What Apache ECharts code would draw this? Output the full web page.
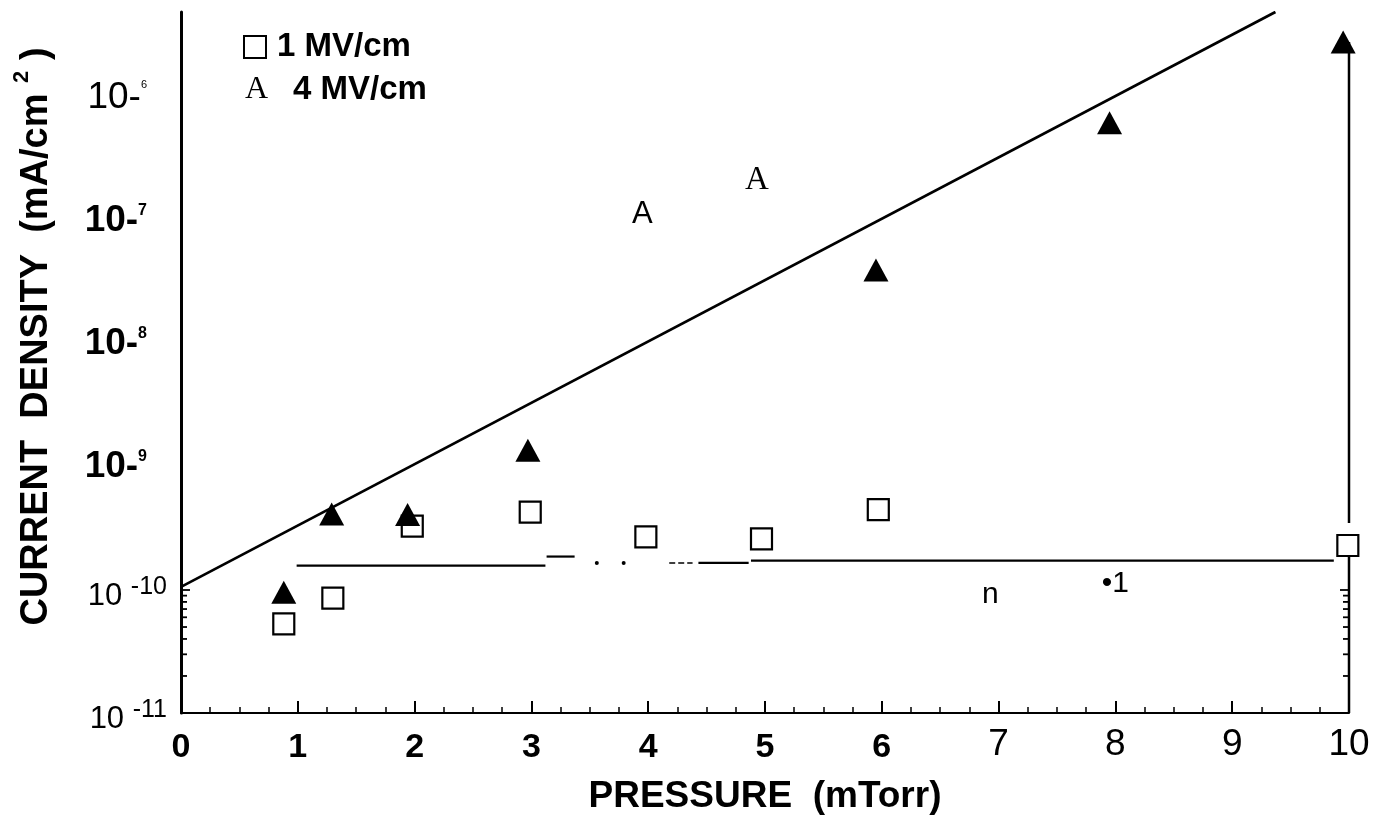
<!DOCTYPE html>
<html><head><meta charset="utf-8">
<script src="https://cdn.jsdelivr.net/npm/echarts@6/dist/echarts.min.js"></script>
<style>html,body{margin:0;padding:0;background:#fff}#c{width:1391px;height:823px}</style>
</head><body><div id="c"></div>
<script>
// ---- data ----
const xTickLabels = ['0','1','2','3','4','5','6','7','8','9','10'];
const yExponents = [-11, -10, -9, -8, -7, -6];
const yTickMain = ['10 ', '10 ', '10-', '10-', '10-', '10-'];
const yTickSup = ['-11', '-10', '9', '8', '7', '6'];

const tri4Pressure = [0.88, 1.29, 1.94, 2.97, 5.95, 7.95, 9.95];
const tri4Density  = [9.6e-11, 4.15e-10, 4.1e-10, 1.37e-9, 4.0e-8, 6.3e-7, 2.85e-6];
const sq1Pressure  = [0.88, 1.30, 1.98, 2.99, 3.98, 4.97, 5.97, 9.99];
const sq1Density   = [5.3e-11, 8.6e-11, 3.3e-10, 4.3e-10, 2.7e-10, 2.6e-10, 4.5e-10, 2.3e-10];
const fitPressure  = [0, 9.37];
const fitDensity   = [1.06e-10, 5.0e-6];
const aMarkPressure = [3.95, 4.93];
const aMarkDensity  = [1.14e-7, 2.15e-7];
const aMarkText     = ['A', 'A'];
const strayPressure = [6.93, 8.0];
const strayDensity  = [9.1e-11, 1.12e-10];
const strayText     = ['n', '\u20221'];
const baseSegPressure = [[0.99, 3.12], [3.13, 3.37], [4.18, 4.38], [4.43, 4.86], [4.88, 9.87]];
const baseSegDensity  = [1.58e-10, 1.87e-10, 1.66e-10, 1.66e-10, 1.73e-10];
const baseDotPressure = [3.56, 3.79];
const baseDotDensity  = [1.66e-10, 1.66e-10];
const rightLinePressure = 10;
const rightLineDensity  = [[1e-11, 2.3e-10], [3.5e-10, 2.85e-6]];
const minorTickDensity  = [1e-10, 9e-11, 8e-11, 7e-11, 6e-11, 5e-11, 4e-11, 3e-11, 2e-11];

// ---- chart ----
const FONT = 'Liberation Sans, Arial, sans-serif';
const chart = echarts.init(document.getElementById('c'), null, {renderer: 'canvas'});

function yLabel(v) {
  const e = Math.log10(v);
  const r = Math.round(e);
  if (Math.abs(e - r) > 1e-6) return '';
  const i = yExponents.indexOf(r);
  if (i < 0) return '';
  if (r <= -10) return '{m|' + yTickMain[i] + '}{ms|' + yTickSup[i] + '}';
  if (r === -6) return '{l|' + yTickMain[i] + '}{ls|' + yTickSup[i] + '}{sp| }';
  return '{b|' + yTickMain[i] + '}{bs|' + yTickSup[i] + '}{sp| }';
}

function tickRenderer(dir) {
  return function (params, api) {
    const v = api.value(1);
    const p = api.coord([api.value(0), v]);
    const e = Math.log10(v);
    const len = Math.abs(e - Math.round(e)) < 1e-6 ? 9 : 6;
    return {type: 'line', shape: {x1: p[0], y1: p[1], x2: p[0] + dir * len, y2: p[1]},
            style: {stroke: '#000', lineWidth: 1.8}};
  };
}

const series = [];
series.push({type: 'line', data: fitPressure.map((p, i) => [p, fitDensity[i]]), symbol: 'none',
  lineStyle: {color: '#000', width: 2.7}, silent: true, z: 2});
baseSegPressure.forEach((seg, i) => {
  series.push({type: 'line', data: [[seg[0], baseSegDensity[i]], [seg[1], baseSegDensity[i]]], symbol: 'none',
    lineStyle: {color: '#000', width: i === 2 ? 1.5 : 2.2, type: i === 2 ? 'dashed' : 'solid'}, silent: true, z: 2});
});
series.push({type: 'scatter', data: baseDotPressure.map((p, i) => [p, baseDotDensity[i]]), symbol: 'circle',
  symbolSize: 4, itemStyle: {color: '#000', opacity: 1}, silent: true, z: 2});
rightLineDensity.forEach(seg => {
  series.push({type: 'line', data: [[rightLinePressure, seg[0]], [rightLinePressure, seg[1]]], symbol: 'none',
    lineStyle: {color: '#000', width: 2.5}, silent: true, z: 2});
});
series.push({type: 'custom', data: minorTickDensity.map(v => [0, v]), renderItem: tickRenderer(1), silent: true, clip: false, z: 3});
series.push({type: 'custom', data: minorTickDensity.map(v => [10, v]), renderItem: tickRenderer(-1), silent: true, clip: false, z: 3});
series.push({name: '1 MV/cm', type: 'scatter', data: sq1Pressure.map((p, i) => [p, sq1Density[i]]), symbol: 'rect',
  symbolSize: 21, itemStyle: {color: '#fff', borderColor: '#000', borderWidth: 2.2, opacity: 1}, z: 4});
series.push({name: '4 MV/cm', type: 'scatter', data: tri4Pressure.map((p, i) => [p, tri4Density[i]]), symbol: 'triangle',
  symbolSize: [25, 23], itemStyle: {color: '#000', opacity: 1}, z: 5});
series.push({type: 'scatter', symbolSize: 1, itemStyle: {color: 'rgba(0,0,0,0)', opacity: 1}, silent: true, z: 6,
  data: aMarkPressure.map((p, i) => ({value: [p, aMarkDensity[i]], name: aMarkText[i],
    label: {fontFamily: i === 0 ? FONT : 'Liberation Serif, Times New Roman, serif', fontSize: i === 0 ? 31 : 33}})),
  label: {show: true, position: 'inside', formatter: p => p.name, color: '#000', opacity: 1}});
series.push({type: 'scatter', symbolSize: 1, itemStyle: {color: 'rgba(0,0,0,0)', opacity: 1}, silent: true, z: 6,
  data: strayPressure.map((p, i) => ({value: [p, strayDensity[i]], name: strayText[i]})),
  label: {show: true, position: 'inside', formatter: p => p.name, color: '#000', opacity: 1, fontFamily: FONT, fontSize: 30}});

const option = {
  backgroundColor: '#fff',
  animation: false,
  grid: {left: 181, right: 42, top: 12, bottom: 110, containLabel: false, outerBoundsMode: 'none'},
  legend: [
    {data: [{name: '1 MV/cm', icon: 'rect', itemStyle: {color: '#fff', borderColor: '#000', borderWidth: 2}}],
     left: 243, top: 28, padding: 0, itemWidth: 22, itemHeight: 22, selectedMode: false,
     textStyle: {fontSize: 33, fontWeight: 'bold', fontFamily: FONT, color: '#000', padding: [0, 0, 0, 6], lineHeight: 38}},
    {data: [{name: '4 MV/cm', icon: 'rect', itemStyle: {color: 'rgba(0,0,0,0)', borderWidth: 0, opacity: 0}}],
     left: 239, top: 73, padding: 0, itemWidth: 1, itemHeight: 1, selectedMode: false,
     formatter: n => '{a|A}{t|' + n + '}',
     textStyle: {color: '#000', rich: {
       a: {fontFamily: 'Liberation Serif, Times New Roman, serif', fontSize: 32, width: 48, lineHeight: 38, color: '#000'},
       t: {fontFamily: FONT, fontSize: 33, fontWeight: 'bold', lineHeight: 38, color: '#000'}}}}
  ],
  xAxis: {
    type: 'value', min: 0, max: 10, interval: 1,
    name: 'PRESSURE  (mTorr)', nameLocation: 'middle', nameGap: 65,
    nameTextStyle: {fontFamily: FONT, fontSize: 37, fontWeight: 'bold', color: '#000'},
    axisLine: {show: true, onZero: false, lineStyle: {color: '#000', width: 2}},
    axisTick: {show: true, inside: true, length: 12, lineStyle: {color: '#000', width: 2}},
    minorTick: {show: true, splitNumber: 4, length: 6, lineStyle: {color: '#000', width: 1.5}},
    splitLine: {show: false},
    axisLabel: {
      margin: 13, color: '#000',
      formatter: v => {
        const i = Math.round(v);
        return i <= 6 ? '{xb|' + xTickLabels[i] + '}' : '{xn|' + xTickLabels[i] + '}';
      },
      rich: {
        xb: {fontFamily: FONT, fontSize: 34, fontWeight: 'bold', lineHeight: 34, padding: [10, 0, 0, 0], color: '#000'},
        xn: {fontFamily: FONT, fontSize: 37, fontWeight: 'normal', lineHeight: 37, color: '#000'}
      }
    }
  },
  yAxis: {
    type: 'log', logBase: 10, min: 1e-11, max: 5e-6,
    name: '{t|CURRENT  DENSITY  (mA/cm }{s|2}{t| )}', nameLocation: 'middle', nameGap: 132, nameRotate: 90,
    nameTextStyle: {padding: [0, 0, 0, 52], rich: {
      t: {fontFamily: FONT, fontSize: 38, fontWeight: 'bold', lineHeight: 38, padding: [13, 0, 0, 0], color: '#000'},
      s: {fontFamily: FONT, fontSize: 22, fontWeight: 'bold', lineHeight: 22, verticalAlign: 'top', color: '#000'}}},
    axisLine: {show: true, onZero: false, lineStyle: {color: '#000', width: 3}},
    axisTick: {show: false},
    minorTick: {show: false},
    splitLine: {show: false},
    axisLabel: {
      margin: 14, color: '#000', formatter: yLabel,
      rich: {
        m: {fontFamily: FONT, fontSize: 31, lineHeight: 31, padding: [12, 0, 0, 0], color: '#000'},
        ms: {fontFamily: FONT, fontSize: 25, lineHeight: 26, verticalAlign: 'top', color: '#000'},
        b: {fontFamily: FONT, fontSize: 37, fontWeight: 'bold', lineHeight: 37, color: '#000'},
        bs: {fontFamily: FONT, fontSize: 16, fontWeight: 'bold', lineHeight: 17, verticalAlign: 'top', color: '#000'},
        l: {fontFamily: 'Liberation Sans Narrow, ' + FONT, fontSize: 37, lineHeight: 37, color: '#000'},
        ls: {fontFamily: FONT, fontSize: 11, lineHeight: 12, verticalAlign: 'top', color: '#000'},
        sp: {width: 20, fontSize: 10}
      }
    }
  },
  series: series
};
chart.setOption(option);
</script>
</body></html>
